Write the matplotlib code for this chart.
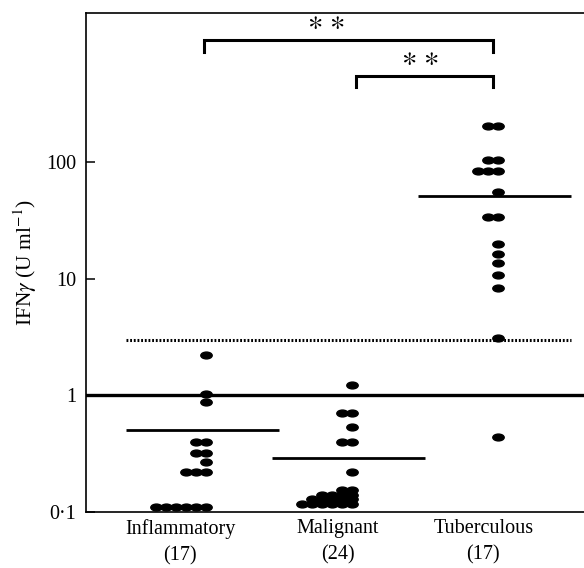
import matplotlib
matplotlib.use("Agg")
import matplotlib.pyplot as plt
from matplotlib.path import Path
from matplotlib.transforms import Affine2D

plt.rcParams["font.family"] = ["Liberation Serif", "DejaVu Serif"]
plt.rcParams["mathtext.fontset"] = "stix"

# data (U/ml, log axis)
groups = ["Inflammatory", "Malignant", "Tuberculous"]
counts = [17, 24, 17]
inflammatory = [2.2, 1.03, 0.87, 0.40, 0.40, 0.32, 0.32, 0.27,
                0.22, 0.22, 0.22, 0.11, 0.11, 0.11, 0.11, 0.11, 0.11]
malignant = [1.22, 0.70, 0.70, 0.54, 0.40, 0.40, 0.22, 0.155, 0.155,
             0.14, 0.14, 0.14, 0.14, 0.13, 0.13, 0.13, 0.13, 0.13,
             0.118, 0.118, 0.118, 0.118, 0.118, 0.118]
tuberculous = [205, 205, 105, 105, 84, 84, 84, 55, 34, 34,
               19.7, 16.2, 13.5, 10.8, 8.3, 3.1, 0.44]
medians = [0.5, 0.29, 51]
cutoff = 3.0
reference_line = 1.0
yticks = [0.1, 1, 10, 100]
yticklabels = ["0\u00b71", "1", "10", "100"]

BLACK = "#000000"
FS = 14.5


def main():
    fig = plt.figure(figsize=(5.84, 5.68), dpi=100)
    ax = fig.add_axes([0.1473, 0.0986, 0.87, 0.879])
    ax.set_yscale("log")
    ax.set_ylim(0.1, 1905)
    ax.set_xlim(-0.825, 2.66)

    # elliptical dot marker
    dot = Path.unit_circle().transformed(Affine2D().scale(1.0, 0.6))
    dx = 0.069
    for i, vals in enumerate([inflammatory, malignant, tuberculous]):
        seen = {}
        xs = []
        for v in vals:
            k = seen.get(v, 0)
            seen[v] = k + 1
            xs.append(i - k * dx)
        ax.plot(xs, vals, linestyle="none", marker=dot, markersize=8.2,
                color=BLACK, zorder=4)

    # medians
    for i, m in enumerate(medians):
        ax.plot([i - 0.55, i + 0.5], [m, m], color=BLACK, lw=2.0,
                solid_capstyle="butt", zorder=3)

    ax.axhline(reference_line, color=BLACK, lw=2.4, zorder=3)
    ax.plot([-0.55, 2.5], [cutoff, cutoff], color=BLACK, lw=2.2,
            linestyle=(0, (0.6, 0.6)), zorder=3)

    # significance brackets
    def bracket(x0, x1, y_top, y_bot, xs):
        ax.plot([x0, x0, x1, x1], [y_bot, y_top, y_top, y_bot],
                color=BLACK, lw=2.2, solid_joinstyle="miter", zorder=3)
        ax.text(xs, y_top * 1.42, r"$\ast\,\ast$", ha="center", va="center",
                fontsize=21, color=BLACK)

    bracket(-0.014, 1.966, 1120, 875, 0.825)
    bracket(1.03, 1.966, 546, 440, 1.464)

    ax.set_yticks(yticks)
    ax.set_yticklabels(yticklabels, fontsize=FS)
    ax.minorticks_off()
    ax.tick_params(axis="y", direction="in", length=6.5, width=1.1, pad=7)
    ax.set_xticks([-0.18, 0.9, 1.9])
    ax.set_xticklabels([f"{g}\n({n})" for g, n in zip(groups, counts)],
                       fontsize=FS, linespacing=1.5)
    ax.tick_params(axis="x", length=0, pad=5)
    ax.set_ylabel(r"IFN$\gamma$ (U ml$^{-1}$)", fontsize=15.5, labelpad=5)

    for s in ["left", "bottom", "top"]:
        ax.spines[s].set_linewidth(1.2)
    ax.spines["right"].set_visible(False)

    fig.savefig("out.png", dpi=100, facecolor="white")
    plt.close(fig)


if __name__ == "__main__":
    main()
